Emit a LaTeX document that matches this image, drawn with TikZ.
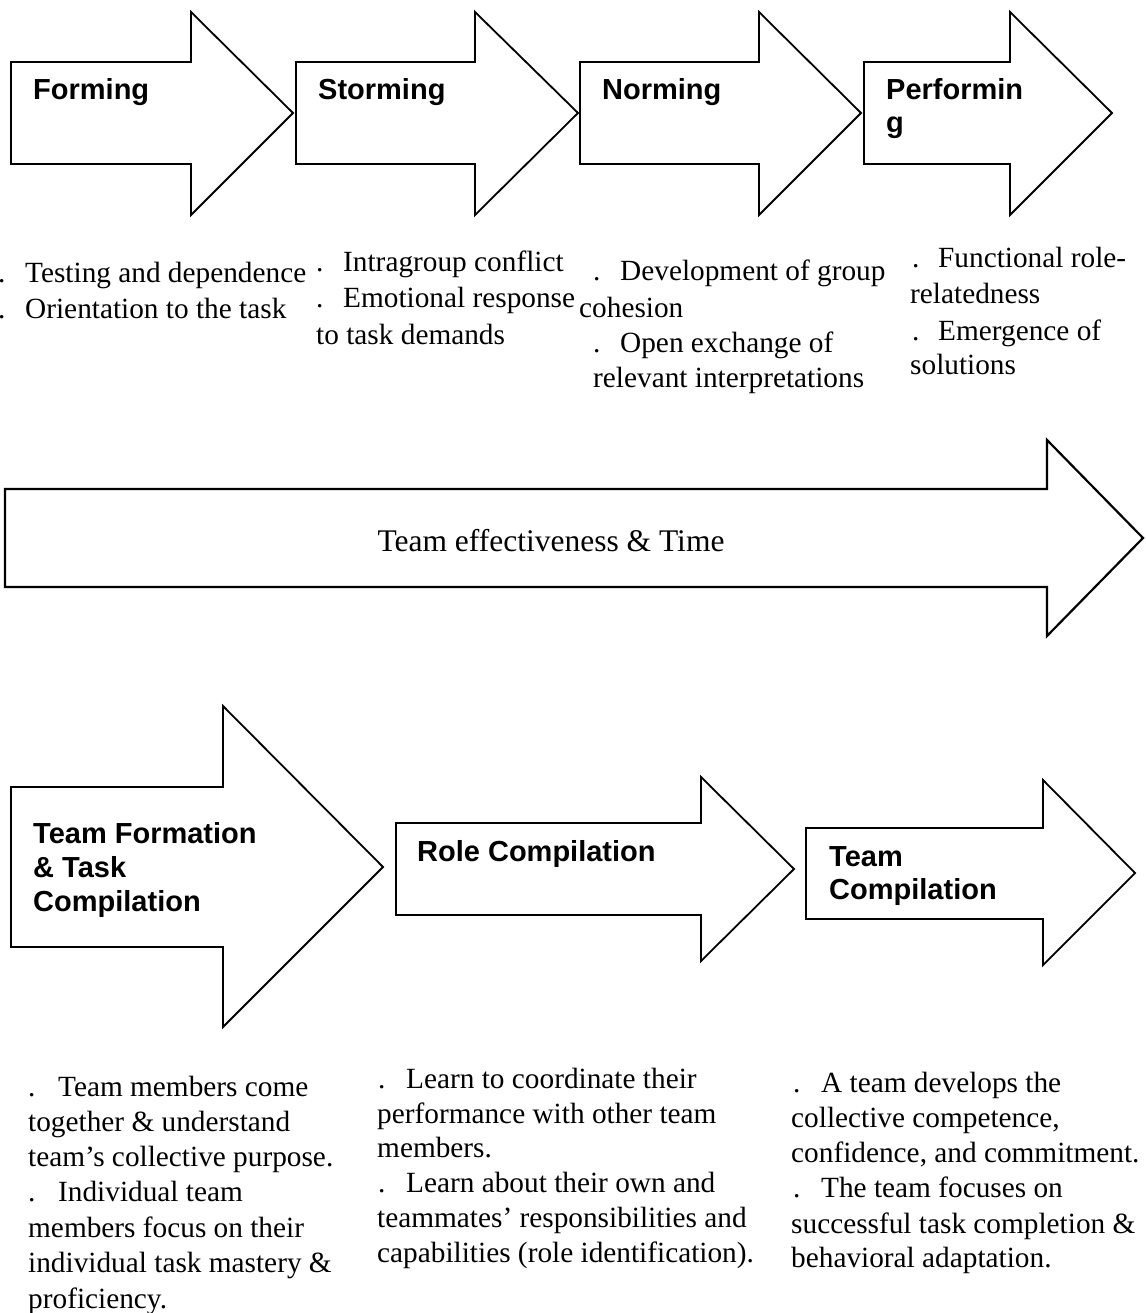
\documentclass[tikz,border=0pt]{standalone}
\usepackage{fontspec}
\setmainfont{Liberation Serif}
\newfontfamily\headfont{Liberation Sans}
% bullet dot followed by a fixed gap before the item text
\newcommand\bul[1]{\makebox[#1pt][l]{.}}
\begin{document}
\begin{tikzpicture}[x=1pt,y=-1pt,
  phasearrow/.style={draw=black, line width=1.8pt, fill=white, line join=miter},
  timearrow/.style={draw=black, line width=2.2pt, fill=white, line join=miter},
  stagelabel/.style={font=\headfont\bfseries\fontsize{29}{33}\selectfont, anchor=base west, inner sep=0pt},
  notetext/.style={font=\fontsize{29.3}{35}\selectfont, anchor=base west, inner sep=0pt},
]
\useasboundingbox (0,0) rectangle (1145,1313);

% ---- Tuckman stages ----
\draw[phasearrow] (11,62) -- (191,62) -- (191,12) -- (293,113) -- (191,215) -- (191,164) -- (11,164) -- cycle;
\draw[phasearrow] (296,62) -- (475,62) -- (475,12) -- (578,113) -- (475,215) -- (475,164) -- (296,164) -- cycle;
\draw[phasearrow] (580,62) -- (759,62) -- (759,12) -- (861,113) -- (759,215) -- (759,164) -- (580,164) -- cycle;
\draw[phasearrow] (864,62) -- (1010,62) -- (1010,12) -- (1112,113) -- (1010,215) -- (1010,164) -- (864,164) -- cycle;

\node[stagelabel] (forming) at (33,100) {Forming};
\node[stagelabel] (storming) at (318,100) {Storming};
\node[stagelabel] (norming) at (602,100) {Norming};
\node[stagelabel] (performing1) at (886,100) {Performin};
\node[stagelabel] (performing2) at (886,133) {g};

\node[notetext] (f1) at (-2,283) {\bul{27}Testing and dependence};
\node[notetext] (f2) at (-2,319) {\bul{27}Orientation to the task};

\node[notetext] (s1) at (316,272) {\bul{27}Intragroup conflict};
\node[notetext] (s2) at (316,308) {\bul{27}Emotional response};
\node[notetext] (s3) at (316,344) {to task demands};

\node[notetext] (n1) at (593,281) {\bul{27}Development of group};
\node[notetext] (n2) at (579,317) {cohesion};
\node[notetext] (n3) at (593,352) {\bul{27}Open exchange of};
\node[notetext] (n4) at (593,387) {relevant interpretations};

\node[notetext] (p1) at (912,268) {\bul{26}Functional role-};
\node[notetext] (p2) at (910,304) {relatedness};
\node[notetext] (p3) at (912,340) {\bul{26}Emergence of};
\node[notetext] (p4) at (910,374) {solutions};

% ---- time axis ----
\draw[timearrow] (5,489) -- (1047,489) -- (1047,440) -- (1143,538) -- (1047,636) -- (1047,587) -- (5,587) -- cycle;
\node[font=\fontsize{31.5}{36}\selectfont, inner sep=0pt] (axis) at (551,541) {Team effectiveness \& Time};

% ---- compilation stages ----
\draw[phasearrow] (11,787) -- (223,787) -- (223,706) -- (383,867) -- (223,1027) -- (223,947) -- (11,947) -- cycle;
\draw[phasearrow] (396,823) -- (701,823) -- (701,777) -- (794,869) -- (701,961) -- (701,915) -- (396,915) -- cycle;
\draw[phasearrow] (806,828) -- (1043,828) -- (1043,780) -- (1135,873) -- (1043,965) -- (1043,919) -- (806,919) -- cycle;

\node[stagelabel] (tf1) at (33,843) {Team Formation};
\node[stagelabel] (tf2) at (33,877) {\& Task};
\node[stagelabel] (tf3) at (33,911) {Compilation};
\node[stagelabel] (rc1) at (417,861) {Role Compilation};
\node[stagelabel] (tc1) at (829,866) {Team};
\node[stagelabel] (tc2) at (829,899) {Compilation};

\node[notetext] (t1) at (28,1096) {\bul{30}Team members come};
\node[notetext] (t2) at (28,1131) {together \& understand};
\node[notetext] (t3) at (28,1166) {team’s collective purpose.};
\node[notetext] (t4) at (28,1201) {\bul{30}Individual team};
\node[notetext] (t5) at (28,1237) {members focus on their};
\node[notetext] (t6) at (28,1272) {individual task mastery \&};
\node[notetext] (t7) at (28,1308) {proficiency.};

\node[notetext] (r1) at (378,1088) {\bul{28}Learn to coordinate their};
\node[notetext] (r2) at (377,1123) {performance with other team};
\node[notetext] (r3) at (377,1157) {members.};
\node[notetext] (r4) at (378,1192) {\bul{28}Learn about their own and};
\node[notetext] (r5) at (377,1227) {teammates’ responsibilities and};
\node[notetext] (r6) at (377,1262) {capabilities (role identification).};

\node[notetext] (c1) at (793,1092) {\bul{28}A team develops the};
\node[notetext] (c2) at (791,1127) {collective competence,};
\node[notetext] (c3) at (791,1162) {confidence, and commitment.};
\node[notetext] (c4) at (793,1197) {\bul{28}The team focuses on};
\node[notetext] (c5) at (791,1233) {successful task completion \&};
\node[notetext] (c6) at (791,1267) {behavioral adaptation.};
\end{tikzpicture}
\end{document}
